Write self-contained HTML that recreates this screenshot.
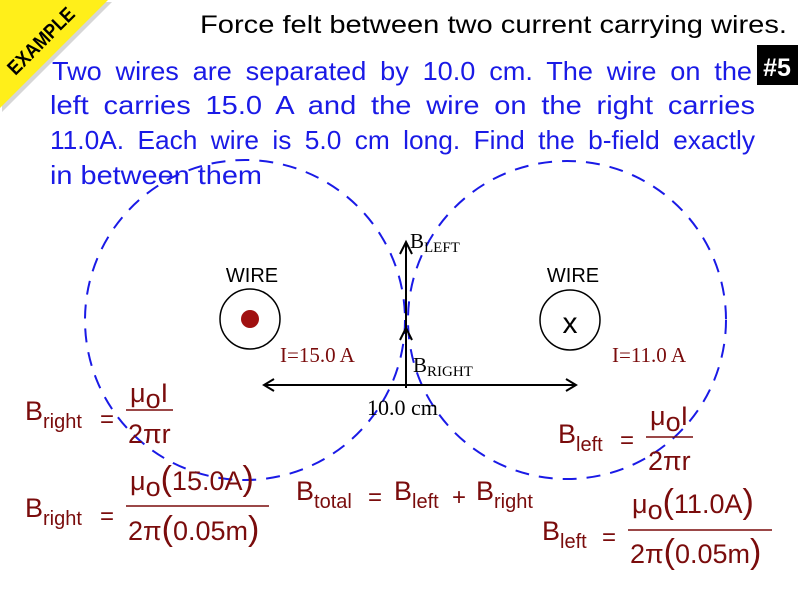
<!DOCTYPE html>
<html><head><meta charset="utf-8"><style>
html,body{margin:0;padding:0;background:#fff;}
svg{display:block;}
.eq{font-family:"Liberation Sans",sans-serif;fill:#7a0c0c;}
.ser{font-family:"Liberation Serif",serif;}
</style></head><body>
<svg width="800" height="600" viewBox="0 0 800 600" xmlns="http://www.w3.org/2000/svg">
<rect width="800" height="600" fill="#fff"/>
<polygon points="0,0 110,0 0,110" fill="#999" opacity="0.4" transform="translate(2,2)"/>
<polygon points="0,0 108,0 0,108" fill="#ffef1a"/>
<text x="42" y="42" transform="rotate(-45 42 42)" text-anchor="middle" dominant-baseline="middle" font-family="Liberation Sans Narrow, Liberation Sans, sans-serif" font-weight="bold" font-size="20" fill="#000" textLength="86" lengthAdjust="spacingAndGlyphs">EXAMPLE</text>
<text x="200" y="33" font-family="Liberation Sans,sans-serif" font-size="25" fill="#000" textLength="587" lengthAdjust="spacingAndGlyphs">Force felt between two current carrying wires.</text>
<g font-family="Liberation Sans,sans-serif" font-size="26" fill="#1a1ae6" word-spacing="6">
<text x="52" y="80" textLength="700" lengthAdjust="spacingAndGlyphs">Two wires are separated by 10.0 cm. The wire on the</text>
<text x="50" y="114" textLength="705" lengthAdjust="spacingAndGlyphs">left carries 15.0 A and the wire on the right carries</text>
<text x="50" y="149" textLength="705" lengthAdjust="spacingAndGlyphs">11.0A. Each wire is 5.0 cm long. Find the b-field exactly</text>
<text x="50" y="184" textLength="212" lengthAdjust="spacingAndGlyphs" word-spacing="0">in between them</text>
</g>
<rect x="757" y="45" width="41" height="40" fill="#000"/>
<text x="777" y="76" text-anchor="middle" font-family="Liberation Sans,sans-serif" font-weight="bold" font-size="25" fill="#fff">#5</text>
<circle cx="245" cy="320" r="160" fill="none" stroke="#1a1ae6" stroke-width="2" stroke-dasharray="14,10"/>
<circle cx="567" cy="320" r="159" fill="none" stroke="#1a1ae6" stroke-width="2" stroke-dasharray="14,10"/>
<circle cx="250" cy="319" r="30" fill="none" stroke="#000" stroke-width="1.5"/>
<circle cx="250" cy="319" r="9" fill="#a01010"/>
<circle cx="570" cy="320" r="30" fill="none" stroke="#000" stroke-width="1.5"/>
<text x="570" y="333" text-anchor="middle" font-family="Liberation Sans,sans-serif" font-size="30" fill="#000">x</text>
<text x="252" y="282" text-anchor="middle" font-family="Liberation Sans,sans-serif" font-size="20" fill="#000">WIRE</text>
<text x="573" y="282" text-anchor="middle" font-family="Liberation Sans,sans-serif" font-size="20" fill="#000">WIRE</text>
<g stroke="#000" stroke-width="2" fill="none">
<line x1="406" y1="388" x2="406" y2="244"/>
<polyline points="400,254 406,242 412,254"/>
<polyline points="400,340 406,328 412,340"/>
<line x1="264" y1="385" x2="576" y2="385"/>
<polyline points="274,379 264,385 274,391"/>
<polyline points="566,379 576,385 566,391"/>
</g>
<text x="410" y="248" class="ser" font-size="21" fill="#000">B<tspan font-size="15" dy="4">LEFT</tspan></text>
<text x="413" y="372" class="ser" font-size="21" fill="#000">B<tspan font-size="15" dy="4">RIGHT</tspan></text>
<text x="367" y="415" class="ser" font-size="22" fill="#000">10.0 cm</text>
<text x="280" y="362" class="ser" font-size="21" fill="#7a0c0c">I=15.0 A</text>
<text x="612" y="362" class="ser" font-size="21" fill="#7a0c0c">I=11.0 A</text>
<g class="eq" font-size="27">
<text x="25" y="420">B<tspan font-size="20" dy="8">right</tspan></text>
<text x="100" y="427" font-size="24">=</text>
<text x="130" y="402">μ<tspan dy="6">o</tspan><tspan dy="-6">I</tspan></text>
<line x1="126" y1="410" x2="173" y2="410" stroke="#7a0c0c" stroke-width="1.5"/>
<text x="128" y="443">2πr</text>
<text x="25" y="517">B<tspan font-size="20" dy="8">right</tspan></text>
<text x="100" y="524" font-size="24">=</text>
<text x="130" y="490">μ<tspan dy="6">o</tspan><tspan dy="-6" font-size="34">(</tspan><tspan>15.0A</tspan><tspan font-size="34">)</tspan></text>
<line x1="126" y1="506" x2="269" y2="506" stroke="#7a0c0c" stroke-width="1.5"/>
<text x="128" y="540">2π<tspan font-size="34">(</tspan>0.05m<tspan font-size="34">)</tspan></text>
<text x="296" y="500">B<tspan font-size="20" dy="8">total</tspan></text>
<text x="368" y="505" font-size="24">=</text>
<text x="394" y="500">B<tspan font-size="20" dy="8">left</tspan></text>
<text x="452" y="505" font-size="24">+</text>
<text x="476" y="500">B<tspan font-size="20" dy="8">right</tspan></text>
<text x="558" y="443">B<tspan font-size="20" dy="8">left</tspan></text>
<text x="620" y="448" font-size="24">=</text>
<text x="650" y="425">μ<tspan dy="6">o</tspan><tspan dy="-6">I</tspan></text>
<line x1="646" y1="437" x2="693" y2="437" stroke="#7a0c0c" stroke-width="1.5"/>
<text x="648" y="470">2πr</text>
<text x="542" y="540">B<tspan font-size="20" dy="8">left</tspan></text>
<text x="602" y="545" font-size="24">=</text>
<text x="632" y="513">μ<tspan dy="6">o</tspan><tspan dy="-6" font-size="34">(</tspan><tspan>11.0A</tspan><tspan font-size="34">)</tspan></text>
<line x1="628" y1="530" x2="772" y2="530" stroke="#7a0c0c" stroke-width="1.5"/>
<text x="630" y="563">2π<tspan font-size="34">(</tspan>0.05m<tspan font-size="34">)</tspan></text>
</g>
</svg>
</body></html>
